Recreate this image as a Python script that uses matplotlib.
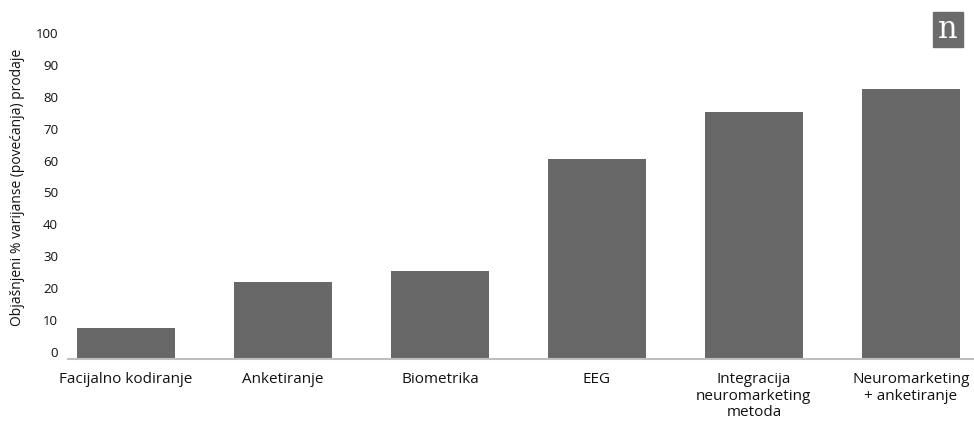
import matplotlib
matplotlib.use('Agg')
from matplotlib import pyplot as plt
from matplotlib.patches import Rectangle
import matplotlib.transforms as mtransforms
import numpy as np

categories = ['Facijalno kodiranje', 'Anketiranje', 'Biometrika', 'EEG',
              'Integracija\nneuromarketing\nmetoda', 'Neuromarketing\n+ anketiranje']
values = [9.6, 24.2, 27.5, 62.6, 77.3, 84.5]
yticks = [0, 10, 20, 30, 40, 50, 60, 70, 80, 90, 100]

plt.rcParams['font.family'] = ['Open Sans', 'DejaVu Sans']

fig = plt.figure(figsize=(9.74, 4.22), dpi=100)
ax = fig.add_axes([0.0697, 0.1493, 0.930, 0.756])

x = np.arange(len(categories))
ax.bar(x, values, width=0.624, color='#686868')

ax.set_xlim(-0.37, 5.4)
ax.set_ylim(0, 100)
ax.set_xticks(x)
ax.set_xticklabels(categories, fontsize=11, color='#111111', linespacing=1.15)
ax.set_yticks(yticks)
ax.set_yticklabels([str(t) for t in yticks], fontsize=9.5, color='#111111')
ax.tick_params(axis='both', length=0)
ax.tick_params(axis='y', pad=7)
ax.tick_params(axis='x', pad=9.5)

# tick labels sit a bit above their grid value in the original
shift = mtransforms.ScaledTranslation(0, 7 / 100, fig.dpi_scale_trans)
for lab in ax.get_yticklabels():
    lab.set_transform(lab.get_transform() + shift)

for side in ['top', 'right', 'left']:
    ax.spines[side].set_visible(False)
ax.spines['bottom'].set_color('#bfbfbf')
ax.spines['bottom'].set_linewidth(1.5)

fig.text(0.0175, 0.555, 'Objašnjeni % varijanse (povećanja) prodaje', rotation=90,
         ha='center', va='center', fontsize=10, color='#111111')

# logo box top right
fig.patches.append(Rectangle((933 / 974, 1 - 47 / 422), 30 / 974, 35 / 422,
                             transform=fig.transFigure, color='#6b6b6b', zorder=5))
fig.text(948 / 974, 1 - 30 / 422, 'n', ha='center', va='center', fontsize=22,
         color='white', family='DejaVu Serif', zorder=6)

plt.savefig('out.png', dpi=100)
